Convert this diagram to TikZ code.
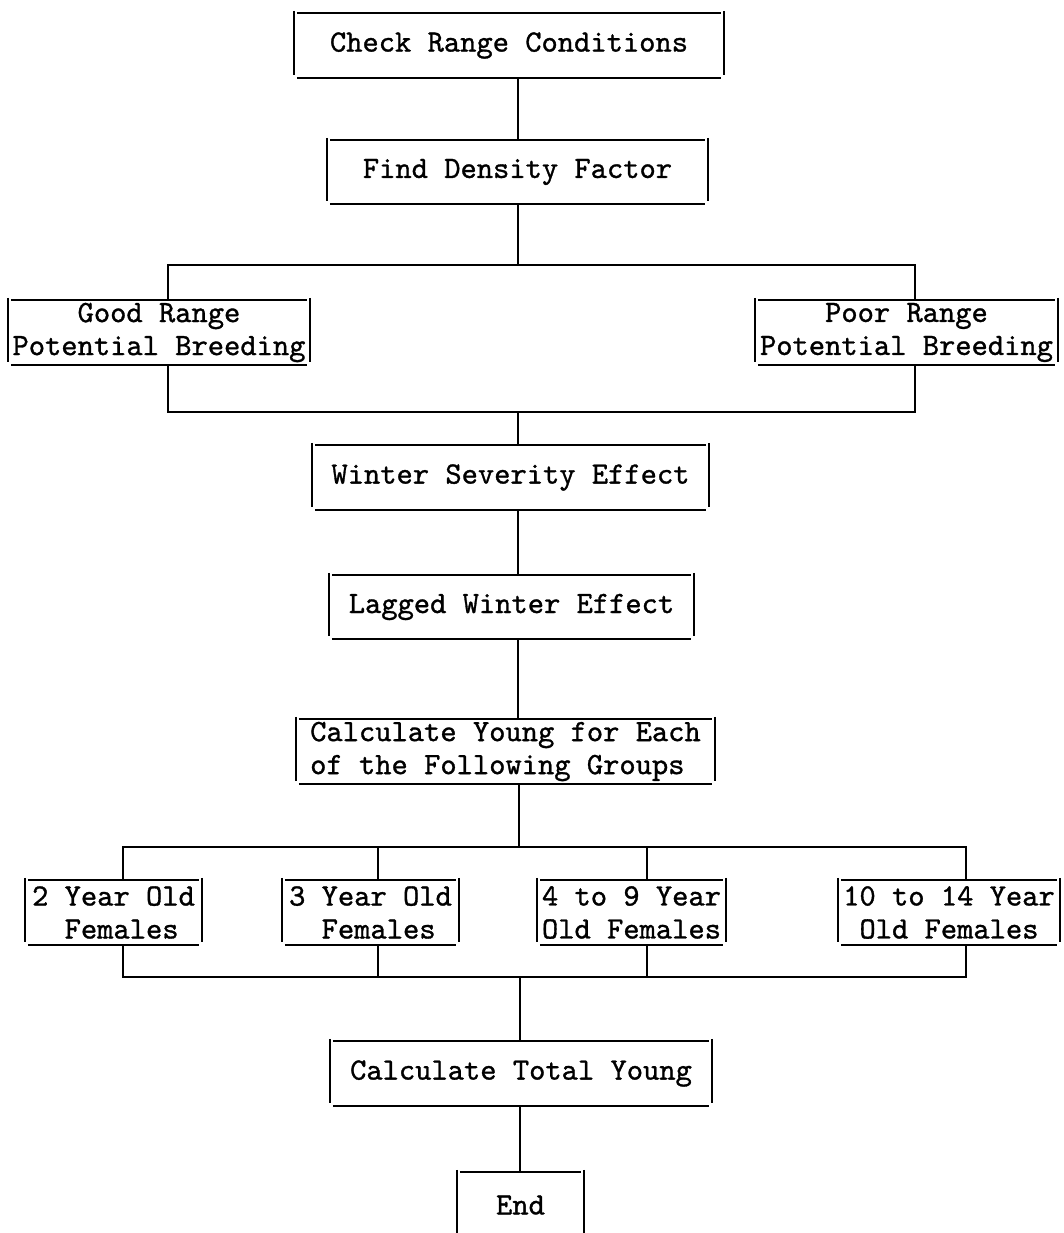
\documentclass[tikz,border=0pt]{standalone}
\usepackage{fontspec}
\setmonofont{lmmono10-regular}[Extension=.otf, FakeBold=1.0]
\begin{document}
\begin{tikzpicture}[x=1pt,y=-1pt,
  box/.style={inner sep=0pt, font=\fontsize{31}{33}\selectfont\ttfamily, align=center},
  ln/.style={line width=2pt, line cap=butt}]
\useasboundingbox (0,0) rectangle (1063,1233);
\newcommand\tboxlines[1]{%
  \draw[ln] ([xshift=3pt]#1.north west) -- ([xshift=-3pt]#1.north east)
            ([xshift=3pt]#1.south west) -- ([xshift=-3pt]#1.south east)
            ([yshift=2pt]#1.north west) -- ([yshift=3pt]#1.south west)
            ([yshift=2pt]#1.north east) -- ([yshift=3pt]#1.south east);}
% nodes
\node[box, minimum width=430pt, minimum height=65pt] (n1) at (509,45.5) {Check Range Conditions};
\node[box, minimum width=381pt, minimum height=64pt] (n2) at (517.5,172) {Find Density Factor};
\node[box, minimum width=302pt, minimum height=65pt] (good) at (159,332.5) {Good Range\\Potential Breeding};
\node[box, minimum width=303pt, minimum height=65pt] (poor) at (906.5,332.5) {Poor Range\\Potential Breeding};
\node[box, minimum width=397pt, minimum height=65pt] (winter) at (510.5,477.5) {Winter Severity Effect};
\node[box, minimum width=365pt, minimum height=64pt] (lagged) at (511.5,607) {Lagged Winter Effect};
\node[box, align=left, minimum width=419pt, minimum height=65pt] (young) at (505.5,751.5) {Calculate Young for Each\\of the Following Groups};
\node[box, align=left, minimum width=177pt, minimum height=65pt] (fa) at (113.5,912.5) {2 Year Old\\\hspace*{1.05em}Females};
\node[box, align=left, minimum width=177pt, minimum height=65pt] (fb) at (370.5,912.5) {3 Year Old\\\hspace*{1.05em}Females};
\node[box, minimum width=189pt, minimum height=65pt] (fc) at (631.5,912.5) {4 to 9 Year\\Old Females};
\node[box, minimum width=222pt, minimum height=65pt] (fd) at (949,912.5) {10 to 14 Year\\Old Females};
\node[box, minimum width=382pt, minimum height=65pt] (total) at (521,1073.5) {Calculate Total Young};
\node[box, minimum width=127pt, minimum height=66pt] (end) at (520.5,1205) {End};
\foreach \n in {n1,n2,good,poor,winter,lagged,young,fa,fb,fc,fd,total,end} {\tboxlines{\n}}
% junction points
\coordinate (gl) at (168,265);
\coordinate (pr) at (915,265);
\coordinate (gl2) at (168,412);
\coordinate (pr2) at (915,412);
\coordinate (s1) at (518,265);
\coordinate (s2) at (518,412);
\coordinate (da) at (123,847);
\coordinate (db) at (378,847);
\coordinate (dc) at (647,847);
\coordinate (dd) at (966,847);
\coordinate (h1) at (519,847);
\coordinate (ea) at (123,977);
\coordinate (eb) at (378,977);
\coordinate (ec) at (647,977);
\coordinate (ed) at (966,977);
\coordinate (h2) at (520,977);
% connectors
\draw[ln] (n2.north) -- (n2.north |- n1.south);
\draw[ln] (s1 |- n2.south) -- (s1);
\draw[ln] (gl |- good.north) -- (gl) -- (pr) -- (pr |- poor.north);
\draw[ln] (gl2 |- good.south) -- (gl2) -- (pr2) -- (pr2 |- poor.south);
\draw[ln] (s2) -- (s2 |- winter.north);
\draw[ln] (s2 |- winter.south) -- (s2 |- lagged.north);
\draw[ln] (s2 |- lagged.south) -- (s2 |- young.north);
\draw[ln] (h1 |- young.south) -- (h1);
\draw[ln] (da |- fa.north) -- (da) -- (dd) -- (dd |- fd.north);
\draw[ln] (db) -- (db |- fb.north);
\draw[ln] (dc) -- (dc |- fc.north);
\draw[ln] (ea |- fa.south) -- (ea) -- (ed) -- (ed |- fd.south);
\draw[ln] (eb |- fb.south) -- (eb);
\draw[ln] (ec |- fc.south) -- (ec);
\draw[ln] (h2) -- (h2 |- total.north);
\draw[ln] (h2 |- total.south) -- (h2 |- end.north);
\end{tikzpicture}
\end{document}
